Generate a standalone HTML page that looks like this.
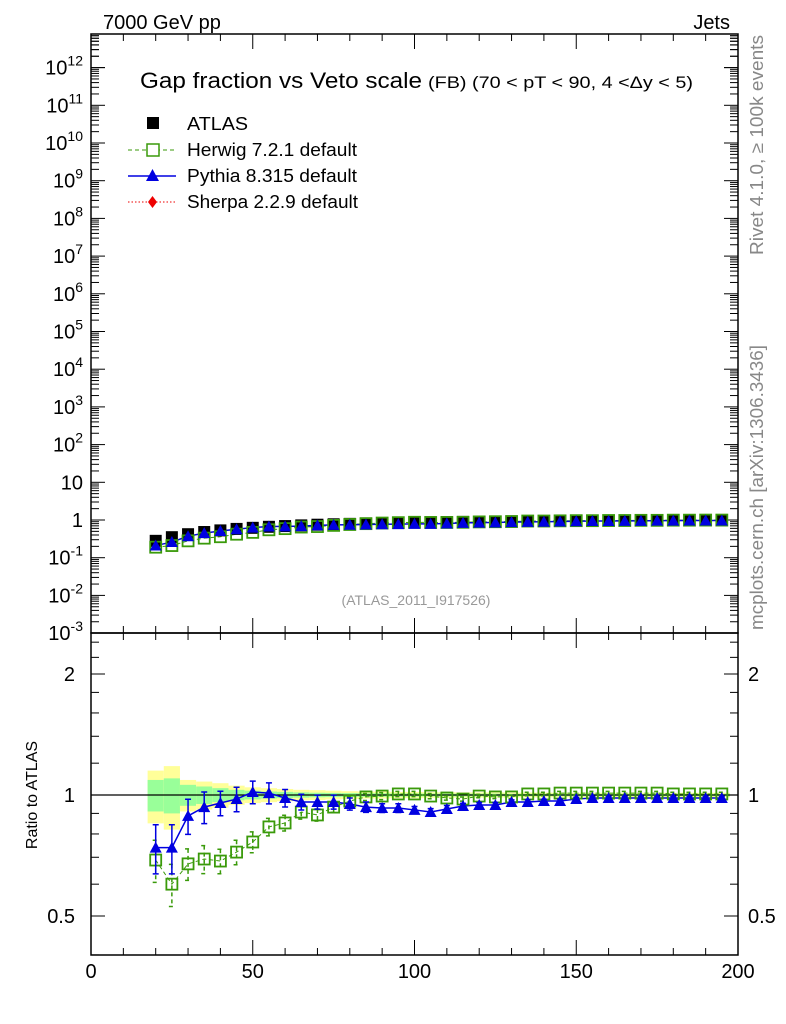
<!DOCTYPE html>
<html><head><meta charset="utf-8"><style>
body{margin:0;background:#fff;}
svg{display:block;font-family:"Liberation Sans",sans-serif;}
</style></head><body>
<svg id="c" width="786" height="1024" viewBox="0 0 786 1024">
<text x="103" y="29" font-size="20">7000 GeV pp</text>
<text x="730" y="29" font-size="20" text-anchor="end">Jets</text>
<text x="140" y="88" font-size="22" textLength="282" lengthAdjust="spacingAndGlyphs">Gap fraction vs Veto scale</text>
<text x="428" y="88" font-size="17" textLength="265" lengthAdjust="spacingAndGlyphs">(FB) (70 &lt; pT &lt;  90, 4 &lt;Δy &lt; 5)</text>
<text x="416" y="605" font-size="14" fill="#999" text-anchor="middle">(ATLAS_2011_I917526)</text>
<text transform="translate(763,255) rotate(-90)" font-size="18" fill="#888" textLength="220" lengthAdjust="spacingAndGlyphs">Rivet 4.1.0, ≥ 100k events</text>
<text transform="translate(763,630) rotate(-90)" font-size="18" fill="#888" textLength="285" lengthAdjust="spacingAndGlyphs">mcplots.cern.ch [arXiv:1306.3436]</text>
<text transform="translate(37,795) rotate(-90)" font-size="16" text-anchor="middle">Ratio to ATLAS</text>
<g>
<rect x="147" y="117" width="12" height="12" fill="#000"/>
<text x="187" y="130" font-size="18" textLength="61" lengthAdjust="spacingAndGlyphs">ATLAS</text>
<line x1="128" y1="150" x2="176" y2="150" stroke="#3a9a0a" stroke-dasharray="4,3"/>
<rect x="147" y="144" width="12" height="12" fill="#fff" stroke="#3a9a0a" stroke-width="1.5"/>
<text x="187" y="156" font-size="18" textLength="170" lengthAdjust="spacingAndGlyphs">Herwig 7.2.1 default</text>
<line x1="128" y1="176" x2="176" y2="176" stroke="#0000e0" stroke-width="1.5"/>
<polygon points="152.5,169 159,181 146,181" fill="#0000e0"/>
<text x="187" y="182" font-size="18" textLength="170" lengthAdjust="spacingAndGlyphs">Pythia 8.315 default</text>
<line x1="128" y1="202" x2="176" y2="202" stroke="#e00" stroke-dasharray="1.5,2"/>
<polygon points="152.5,196 157,202 152.5,208 148,202" fill="#e00"/>
<text x="187" y="208" font-size="18" textLength="171" lengthAdjust="spacingAndGlyphs">Sherpa 2.2.9 default</text>
</g>
</svg>
<script>
const xs=[20,25,30,35,40,45,50,55,60,65,70,75,80,85,90,95,100,105,110,115,120,125,130,135,140,145,150,155,160,165,170,175,180,185,190,195];
const atlas=[0.28,0.35,0.42,0.48,0.53,0.58,0.62,0.66,0.69,0.72,0.75,0.77,0.79,0.81,0.83,0.84,0.86,0.87,0.88,0.89,0.90,0.91,0.92,0.93,0.935,0.94,0.95,0.955,0.96,0.965,0.97,0.975,0.98,0.985,0.99,0.99];
const pythia=[0.21,0.26,0.37,0.45,0.51,0.57,0.63,0.67,0.68,0.69,0.72,0.74,0.75,0.76,0.77,0.78,0.79,0.79,0.81,0.84,0.85,0.86,0.88,0.89,0.90,0.91,0.93,0.94,0.94,0.95,0.95,0.96,0.96,0.97,0.97,0.97];
const herwig=[0.19,0.21,0.28,0.33,0.36,0.42,0.47,0.55,0.59,0.65,0.67,0.72,0.76,0.80,0.83,0.85,0.87,0.86,0.86,0.87,0.89,0.90,0.91,0.94,0.94,0.95,0.96,0.96,0.97,0.97,0.98,0.98,0.99,0.99,0.995,0.995];
const ratioP=[0.74,0.74,0.887,0.933,0.955,0.977,1.017,1.011,0.983,0.961,0.961,0.961,0.95,0.933,0.928,0.928,0.918,0.907,0.923,0.939,0.944,0.944,0.961,0.961,0.966,0.966,0.977,0.983,0.983,0.983,0.983,0.983,0.983,0.983,0.983,0.983];
const ratioH=[0.689,0.60,0.674,0.693,0.685,0.721,0.764,0.833,0.852,0.907,0.892,0.933,0.966,0.989,0.994,1.006,1.006,0.994,0.983,0.977,0.994,0.989,0.989,1.006,1.006,1.011,1.011,1.011,1.011,1.011,1.011,1.011,1.006,1.006,1.006,1.006];
const errP=[0.14,0.14,0.10,0.09,0.07,0.07,0.065,0.06,0.05,0.045,0.04,0.04,0.035,0.03,0.025,0.025,0.02,0.02,0.02,0.015,0.015,0.015,0.012,0.012,0.01,0.01,0.01,0.01,0.01,0.01,0.01,0.01,0.01,0.01,0.01,0.01];
const errH=[0.12,0.12,0.09,0.08,0.07,0.07,0.06,0.05,0.045,0.04,0.035,0.03,0.025,0.02,0.02,0.015,0.015,0.015,0.012,0.012,0.01,0.01,0.01,0.01,0.01,0.01,0.01,0.01,0.01,0.01,0.01,0.01,0.01,0.01,0.01,0.01];
const bandY=[0.15,0.18,0.09,0.08,0.07,0.055,0.045,0.04,0.035,0.03,0.028,0.025,0.022,0.02,0.02,0.018,0.018,0.016,0.016,0.015,0.015,0.015,0.014,0.014,0.014,0.013,0.013,0.013,0.013,0.013,0.013,0.013,0.013,0.013,0.013,0.013];
const bandG=[0.09,0.10,0.06,0.05,0.04,0.03,0.025,0.02,0.018,0.015,0.013,0.012,0.011,0.01,0.01,0.009,0.009,0.008,0.008,0.008,0.008,0.008,0.007,0.007,0.007,0.007,0.007,0.007,0.007,0.007,0.007,0.007,0.007,0.007,0.007,0.007];
const xTicks=[0,50,100,150,200];
const ratioTicks=[0.5,1,2];

const NS="http://www.w3.org/2000/svg";
const svg=document.getElementById('c');
const L=91,R=738,T=34,M=633,B=955;
const X=v=>L+(v/200)*(R-L);
const Y=v=>520-Math.log10(v)*37.7;
const YR=v=>795-Math.log2(v)*121;
function mk(tag,a,parent){const e=document.createElementNS(NS,tag);for(const k in a)e.setAttribute(k,a[k]);(parent||svg).appendChild(e);return e;}
const hw=X(2.5)-X(0);
const bands=mk('g',{});


xs.forEach((x,i)=>{
 const r=mk('rect',{x:X(x)-hw,width:2*hw,y:YR(1+bandY[i]),height:YR(1-bandY[i])-YR(1+bandY[i]),fill:'#ffff99'},bands);
 
 
 const g=mk('rect',{x:X(x)-hw,width:2*hw,y:YR(1+bandG[i]),height:YR(1-bandG[i])-YR(1+bandG[i]),fill:'#99ff99'},bands);
 
 
});
const one=mk('line',{x1:L,x2:R,y1:YR(1),y2:YR(1),stroke:'#000','stroke-width':1.2});


const f1=mk('rect',{x:L,y:T,width:R-L,height:M-T,fill:'none',stroke:'#000','stroke-width':1.5});


const f2=mk('rect',{x:L,y:M,width:R-L,height:B-M,fill:'none',stroke:'#000','stroke-width':1.5});


for(let v=0;v<=200;v+=10){
 const maj=v%50===0;
 [[T,1],[M,-1],[M,1],[B,-1]].forEach(([y,d])=>{
  const len=maj?15:7;
  const t=mk('line',{x1:X(v),x2:X(v),y1:y,y2:y+d*len,stroke:'#000'});
  
  
 });
}
xTicks.forEach(v=>{
 const t=mk('text',{x:X(v),y:978,'font-size':20,'text-anchor':'middle'});
 t.textContent=v;
 
 
});
for(let e=-3;e<=12;e++){
 for(let k=1;k<10;k++){
  const v=k*Math.pow(10,e), y=Y(v);
  if(y<T||y>M)continue;
  const len=k===1?14:8;
  [[L,1],[R,-1]].forEach(([x,d])=>{
   const t=mk('line',{x1:x,x2:x+d*len,y1:y,y2:y,stroke:'#000'});
   
   
  });
 }
}
for(let k=1;k<10;k++){const y=Y(k*1e12);if(y>=T){[[L,1],[R,-1]].forEach(([x,d])=>{const t=mk('line',{x1:x,x2:x+d*(k===1?14:8),y1:y,y2:y,stroke:'#000'});});}}
for(let e=-3;e<=12;e++){
 const y=Y(Math.pow(10,e));
 const t=mk('text',{x:83,y:y+7,'font-size':20,'text-anchor':'end'});
 
 
 if(e===0)t.textContent='1';
 else if(e===1)t.textContent='10';
 else{t.textContent='10';const s=mk('tspan',{'font-size':14,dy:-9},t);s.textContent=e;}
}
[0.4,0.5,0.6,0.7,0.8,0.9,1,1.2,1.4,1.6,1.8,2,2.2,2.4].forEach(v=>{
 const y=YR(v);if(y<M||y>B)return;
 const maj=ratioTicks.includes(v);
 [[L,1],[R,-1]].forEach(([x,d])=>{
  const t=mk('line',{x1:x,x2:x+d*(maj?14:8),y1:y,y2:y,stroke:'#000'});
  
  
 });
});
ratioTicks.forEach(v=>{
 [[75,'end'],[748,'start']].forEach(([x,a])=>{
  const t=mk('text',{x:x,y:YR(v)+7,'font-size':20,'text-anchor':a});
  t.textContent=v;
  
  
 });
});
const hl=mk('polyline',{points:xs.map((x,i)=>X(x)+','+Y(herwig[i])).join(' '),fill:'none',stroke:'#3a9a0a','stroke-dasharray':'4,3'});


const pl=mk('polyline',{points:xs.map((x,i)=>X(x)+','+Y(pythia[i])).join(' '),fill:'none',stroke:'#0000e0','stroke-width':1.5});


xs.forEach((x,i)=>{
 const a=mk('rect',{x:X(x)-6,y:Y(atlas[i])-6,width:12,height:12,fill:'#000'});
 
 
 const h=mk('rect',{x:X(x)-5.5,y:Y(herwig[i])-5.5,width:11,height:11,fill:'none',stroke:'#3a9a0a','stroke-width':1.8});
 
 
 const cx=X(x),cy=Y(pythia[i]);
 const p=mk('polygon',{points:`${cx},${cy-6} ${cx+6},${cy+5} ${cx-6},${cy+5}`,fill:'#0000e0'});
 
 
});
const rh=mk('polyline',{points:xs.map((x,i)=>X(x)+','+YR(ratioH[i])).join(' '),fill:'none',stroke:'#3a9a0a','stroke-dasharray':'4,3'});


const rp=mk('polyline',{points:xs.map((x,i)=>X(x)+','+YR(ratioP[i])).join(' '),fill:'none',stroke:'#0000e0','stroke-width':1.5});


xs.forEach((x,i)=>{
 const cx=X(x);
 const y1=YR(ratioH[i]*(1+errH[i])),y2=YR(ratioH[i]*(1-errH[i]));
 const eh=mk('path',{d:`M${cx},${y1}V${y2}M${cx-3},${y1}H${cx+3}M${cx-3},${y2}H${cx+3}`,stroke:'#3a9a0a','stroke-width':1.5,'stroke-dasharray':'4,3',fill:'none'});
 
 
 const hr=mk('rect',{x:cx-5.5,y:YR(ratioH[i])-5.5,width:11,height:11,fill:'none',stroke:'#3a9a0a','stroke-width':1.8});
 
 
 const p1=YR(ratioP[i]*(1+errP[i])),p2=YR(ratioP[i]*(1-errP[i]));
 const ep=mk('path',{d:`M${cx},${p1}V${p2}M${cx-3},${p1}H${cx+3}M${cx-3},${p2}H${cx+3}`,stroke:'#0000e0','stroke-width':1.5,fill:'none'});
 
 
 const cy=YR(ratioP[i]);
 const pr=mk('polygon',{points:`${cx},${cy-6} ${cx+6},${cy+5} ${cx-6},${cy+5}`,fill:'#0000e0'});
 
 
});
</script>
</body></html>
